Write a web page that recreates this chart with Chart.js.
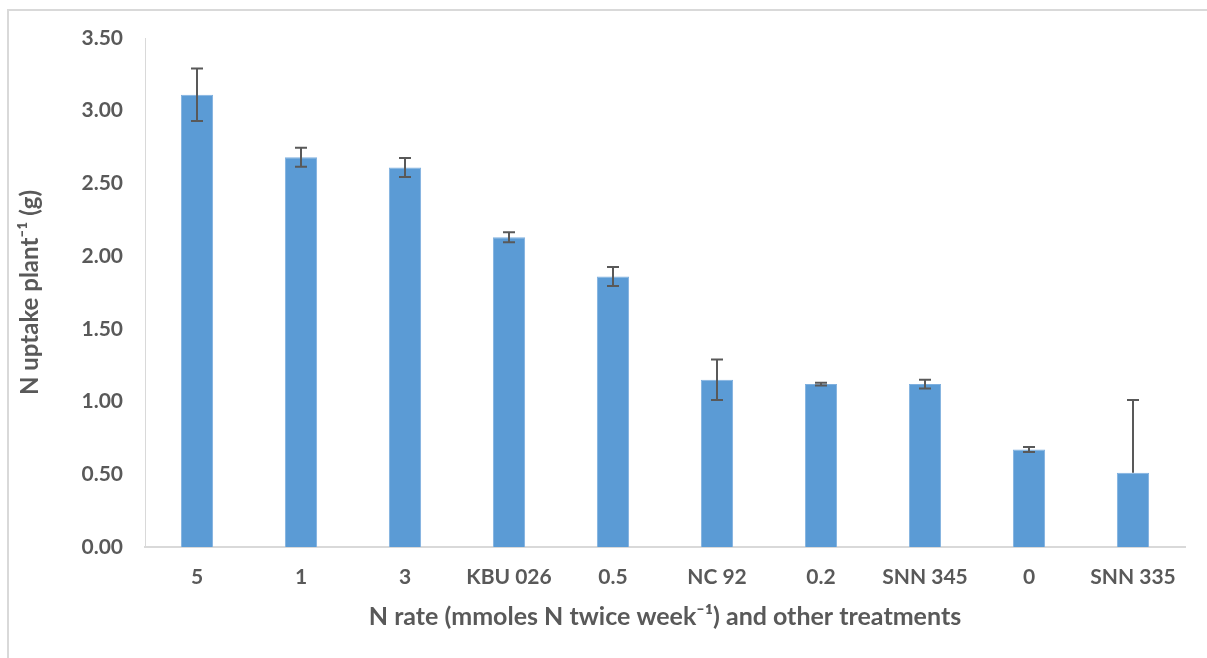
<!DOCTYPE html>
<html>
<head>
<meta charset="utf-8">
<script src="https://cdn.jsdelivr.net/npm/chart.js@4"></script>
<style>
  body { margin: 0; background: #fff; }
  #frame { position: absolute; left: 7px; top: 9px; width: 1300px; height: 700px; border: 2px solid #d9d9d9; }
  #chart { position: absolute; left: 0; top: 0; }
</style>
</head>
<body>
<div id="frame"></div>
<canvas id="chart" width="1207" height="658"></canvas>
<script>
// treatments, in the order shown
const categories = ['5', '1', '3', 'KBU 026', '0.5', 'NC 92', '0.2', 'SNN 345', '0', 'SNN 335'];
// N uptake per plant (g)
const uptake = [3.11, 2.68, 2.61, 2.13, 1.86, 1.15, 1.12, 1.12, 0.67, 0.51];
// error bar lengths (up / down)
const errPlus = [0.18, 0.065, 0.065, 0.035, 0.065, 0.14, 0.01, 0.03, 0.017, 0.50];
const errMinus = [0.18, 0.065, 0.065, 0.035, 0.065, 0.14, 0.01, 0.03, 0.017, 0];
const yTicks = [0, 0.5, 1, 1.5, 2, 2.5, 3, 3.5];

const textColor = '#595959';
const fontFamily = 'Lato, "Open Sans", sans-serif';

// draw the error bars on top of the bars
const errorBars = {
  id: 'errorBars',
  afterDatasetsDraw(chart) {
    const ctx = chart.ctx;
    const meta = chart.getDatasetMeta(0);
    const y = chart.scales.y;
    ctx.save();
    ctx.strokeStyle = '#595959';
    ctx.lineWidth = 2;
    meta.data.forEach((bar, i) => {
      const top = y.getPixelForValue(uptake[i] + errPlus[i]);
      const bot = y.getPixelForValue(uptake[i] - errMinus[i]);
      ctx.beginPath();
      ctx.moveTo(bar.x, top);
      ctx.lineTo(bar.x, bot);
      ctx.moveTo(bar.x - 6, top);
      ctx.lineTo(bar.x + 6, top);
      if (errMinus[i] > 0) {
        ctx.moveTo(bar.x - 6, bot);
        ctx.lineTo(bar.x + 6, bot);
      }
      ctx.stroke();
    });
    ctx.restore();
  }
};

new Chart(document.getElementById('chart'), {
  type: 'bar',
  data: {
    labels: categories,
    datasets: [{
      data: uptake,
      backgroundColor: '#5b9bd5',
      borderColor: '#7fb0df',
      borderWidth: 1,
      barPercentage: 0.31,
      categoryPercentage: 1
    }]
  },
  options: {
    responsive: false,
    devicePixelRatio: 1,
    animation: false,
    layout: { padding: { top: 38, right: 22, bottom: 0, left: 0 } },
    plugins: { legend: { display: false }, tooltip: { enabled: false } },
    scales: {
      x: {
        grid: { display: false, drawTicks: false },
        border: { display: true, color: '#d9d9d9', width: 2 },
        ticks: { color: textColor, font: { family: fontFamily, size: 21, weight: 'bold' }, padding: 18, maxRotation: 0 },
        title: {
          display: true,
          text: 'N rate (mmoles N twice week⁻¹) and other treatments',
          color: textColor,
          font: { family: fontFamily, size: 25, weight: 'bold' },
          padding: { top: 0, bottom: 26 }
        },
        afterFit: (s) => { s.height = 111; }
      },
      y: {
        min: 0,
        max: 3.5,
        grid: { display: false, drawTicks: false },
        border: { display: true, color: '#d9d9d9', width: 1 },
        afterBuildTicks: (s) => { s.ticks = yTicks.map(v => ({ value: v })); },
        ticks: {
          color: textColor,
          font: { family: fontFamily, size: 21, weight: 'bold' },
          padding: 22,
          callback: (v) => Number(v).toFixed(2)
        },
        title: {
          display: true,
          text: 'N uptake plant⁻¹ (g)',
          color: textColor,
          font: { family: fontFamily, size: 24, weight: 'bold' },
          padding: { top: 16, bottom: 0 }
        },
        afterFit: (s) => { s.width = 145; }
      }
    }
  },
  plugins: [errorBars]
});
</script>
</body>
</html>
